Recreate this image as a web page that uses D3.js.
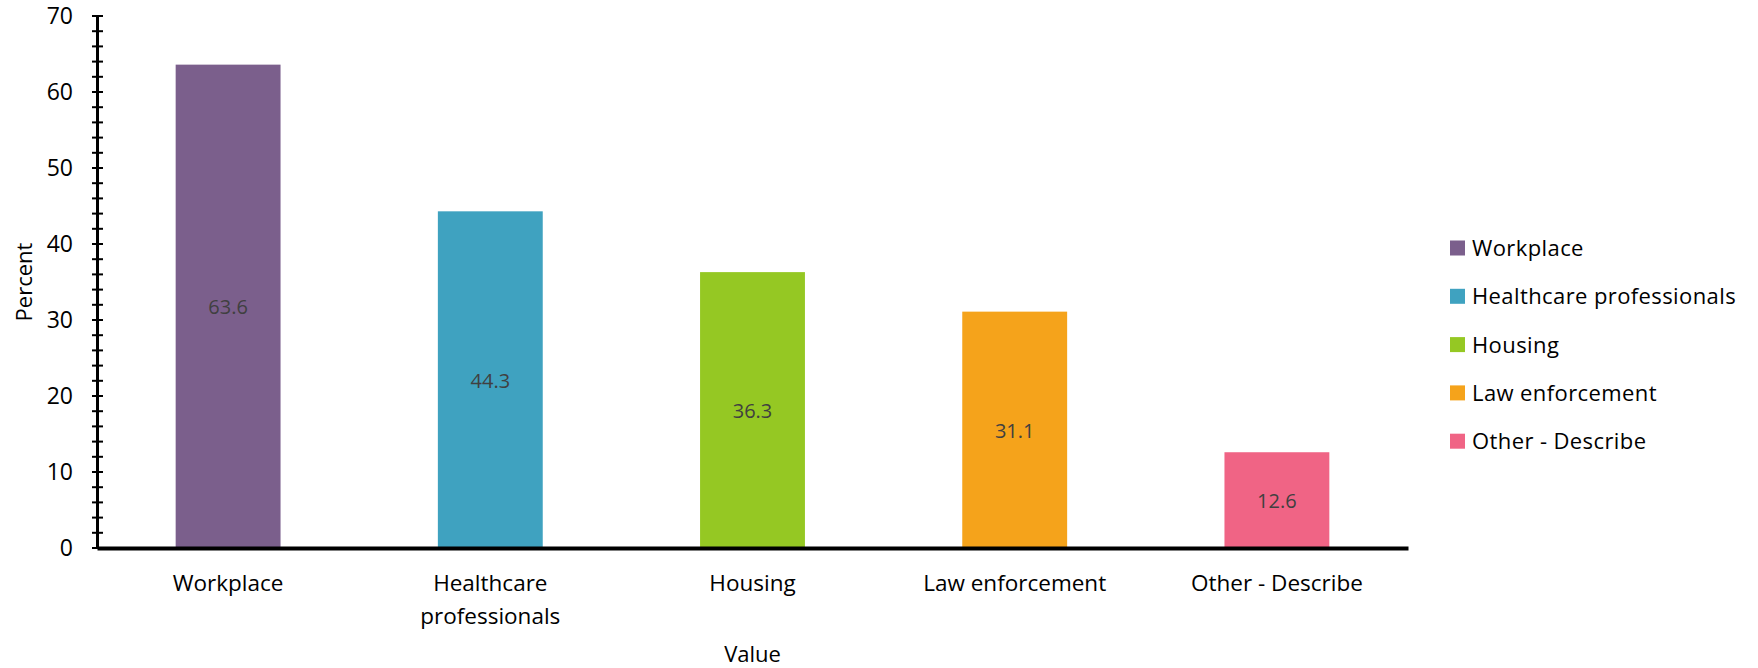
<!DOCTYPE html>
<html><head><meta charset="utf-8">
<script src="https://cdn.jsdelivr.net/npm/d3@7"></script>
<style>body{margin:0;background:#fff;} svg{display:block;} text{font-family:"Open Sans", Lato, sans-serif;}</style>
</head><body><svg id="c" width="1758" height="668"></svg>
<script>
const categories = ["Workplace", "Healthcare professionals", "Housing", "Law enforcement", "Other - Describe"];
const xLabels = [["Workplace"], ["Healthcare", "professionals"], ["Housing"], ["Law enforcement"], ["Other - Describe"]];
const values = [63.6, 44.3, 36.3, 31.1, 12.6];
const colors = ["#7B5F8C", "#3FA2C0", "#95C823", "#F5A31B", "#F06485"];
const yMajorTicks = [0, 10, 20, 30, 40, 50, 60, 70];
const yMinorTicks = d3.range(0, 71, 2);

(function () {
const svg = d3.select("#c");
const mLeft = 97, mRight = 1408, mTop = 16, mBottom = 548;
const x = d3.scaleBand().domain(categories).range([mLeft, mRight]).paddingInner(0.6).paddingOuter(0.3);
const y = d3.scaleLinear().domain([0, 70]).range([mBottom, mTop]);

// bars
svg.selectAll("rect.bar").data(values).enter().append("rect")
  .attr("x", (d, i) => x(categories[i]))
  .attr("width", x.bandwidth())
  .attr("y", d => y(d))
  .attr("height", d => y(0) - y(d))
  .attr("fill", (d, i) => colors[i]);

// data labels
svg.selectAll("text.dl").data(values).enter().append("text")
  .attr("x", (d, i) => x(categories[i]) + x.bandwidth() / 2)
  .attr("y", d => (y(d) + y(0)) / 2)
  .attr("dy", "0.4em")
  .attr("text-anchor", "middle")
  .attr("font-size", 20)
  .attr("fill", "#404040")
  .text(d => d.toFixed(1));

// y axis minor ticks
svg.selectAll("line.mt").data(yMinorTicks).enter().append("line")
  .attr("x1", mLeft - 5).attr("x2", mLeft + 6)
  .attr("y1", d => y(d)).attr("y2", d => y(d))
  .attr("stroke", "#000").attr("stroke-width", 2);

// y axis
const yAxis = d3.axisLeft(y).tickValues(yMajorTicks).tickSize(0).tickPadding(24);
const gy = svg.append("g").attr("transform", `translate(${mLeft},0)`).call(yAxis);
gy.select(".domain").attr("stroke", "#000").attr("stroke-width", 3);
gy.selectAll("text").attr("font-size", 23).attr("fill", "#000").attr("font-family", "Open Sans");

// x axis
const xAxis = d3.axisBottom(x).tickSize(0).tickFormat("");
const gx = svg.append("g").attr("transform", `translate(0,${mBottom})`).call(xAxis);
gx.select(".domain").attr("stroke", "#000").attr("stroke-width", 4);

// x labels
xLabels.forEach((lines, i) => {
  const cx = x(categories[i]) + x.bandwidth() / 2;
  const t = svg.append("text")
    .attr("x", cx)
    .attr("y", 591)
    .attr("text-anchor", "middle")
    .attr("font-size", 22.5)
    .attr("fill", "#000");
  lines.forEach((l, j) => t.append("tspan").attr("x", cx).attr("dy", j ? 33 : 0).text(l));
});

// axis titles
svg.append("text").attr("x", (mLeft + mRight) / 2).attr("y", 662).attr("text-anchor", "middle")
  .attr("font-size", 22).attr("fill", "#000").text("Value");
svg.append("text").attr("transform", `translate(32,${(mTop + mBottom) / 2}) rotate(-90)`)
  .attr("text-anchor", "middle").attr("font-size", 22).attr("fill", "#000").text("Percent");

// legend
const lg = svg.append("g").selectAll("g").data(categories).enter().append("g")
  .attr("transform", (d, i) => `translate(1450,${248 + i * 48.3})`);
lg.append("rect").attr("x", 0).attr("y", -7.5).attr("width", 15).attr("height", 15)
  .attr("fill", (d, i) => colors[i]);
lg.append("text").attr("x", 22).attr("dy", "0.37em").attr("font-size", 22)
  .attr("letter-spacing", 0.4).attr("fill", "#000").text(d => d);
})();
</script></body></html>
